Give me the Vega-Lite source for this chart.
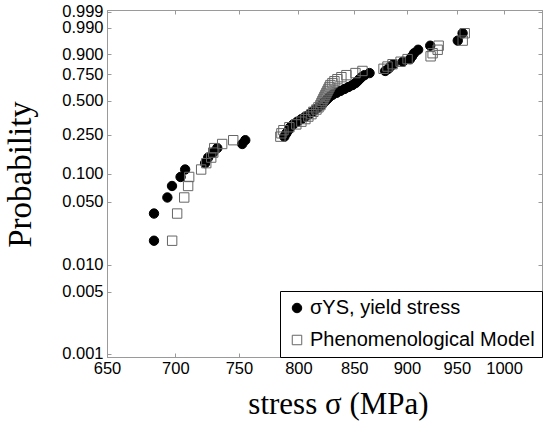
{
  "$schema": "https://vega.github.io/schema/vega-lite/v6.json",
  "width": 435,
  "height": 347,
  "autosize": "none",
  "padding": {"left": 107, "top": 10, "right": 1, "bottom": 67},
  "background": "white",
  "config": {
    "font": "Liberation Sans",
    "view": {"stroke": "#9a9a9a", "strokeWidth": 1},
    "axis": {"grid": false, "domainColor": "#9a9a9a", "tickColor": "#9a9a9a", "labelColor": "black", "labelFont": "Liberation Sans", "labelFontSize": 16.5, "labelOverlap": false, "labelFlush": false, "labelBound": false, "titleFont": "Liberation Serif", "titleFontSize": 31, "titleFontWeight": "normal", "titleColor": "black", "tickSize": -4},
    "legend": {"orient": "bottom-right", "offset": 0, "strokeColor": "black", "fillColor": "white", "padding": 7, "rowPadding": 12, "labelFont": "Liberation Sans", "labelFontSize": 20, "labelColor": "black", "labelLimit": 400, "symbolSize": 90, "symbolStrokeWidth": 1, "labelOffset": 3, "cornerRadius": 0}
  },
  "data": {"values": [
    {"series": "σYS, yield stress", "stress": 684, "F": -3.9796},
    {"series": "σYS, yield stress", "stress": 684, "F": -3.2770},
    {"series": "σYS, yield stress", "stress": 694, "F": -2.8619},
    {"series": "σYS, yield stress", "stress": 697.5, "F": -2.5645},
    {"series": "σYS, yield stress", "stress": 704, "F": -2.3313},
    {"series": "σYS, yield stress", "stress": 707.5, "F": -2.1389},
    {"series": "σYS, yield stress", "stress": 723, "F": -1.9744},
    {"series": "σYS, yield stress", "stress": 725.4, "F": -1.8304},
    {"series": "σYS, yield stress", "stress": 729.4, "F": -1.7019},
    {"series": "σYS, yield stress", "stress": 732.6, "F": -1.5858},
    {"series": "σYS, yield stress", "stress": 752.7, "F": -1.4794},
    {"series": "σYS, yield stress", "stress": 755.2, "F": -1.3811},
    {"series": "σYS, yield stress", "stress": 787.9, "F": -1.2895},
    {"series": "σYS, yield stress", "stress": 789.6, "F": -1.2036},
    {"series": "σYS, yield stress", "stress": 791.3, "F": -1.1226},
    {"series": "σYS, yield stress", "stress": 793.0, "F": -1.0459},
    {"series": "σYS, yield stress", "stress": 795.6, "F": -0.9727},
    {"series": "σYS, yield stress", "stress": 799.1, "F": -0.9027},
    {"series": "σYS, yield stress", "stress": 802.6, "F": -0.8356},
    {"series": "σYS, yield stress", "stress": 806.1, "F": -0.7709},
    {"series": "σYS, yield stress", "stress": 809.6, "F": -0.7083},
    {"series": "σYS, yield stress", "stress": 812.2, "F": -0.6477},
    {"series": "σYS, yield stress", "stress": 814.9, "F": -0.5888},
    {"series": "σYS, yield stress", "stress": 817.6, "F": -0.5314},
    {"series": "σYS, yield stress", "stress": 820.2, "F": -0.4753},
    {"series": "σYS, yield stress", "stress": 822.0, "F": -0.4204},
    {"series": "σYS, yield stress", "stress": 823.8, "F": -0.3665},
    {"series": "σYS, yield stress", "stress": 825.6, "F": -0.3135},
    {"series": "σYS, yield stress", "stress": 827.4, "F": -0.2612},
    {"series": "σYS, yield stress", "stress": 830.1, "F": -0.2096},
    {"series": "σYS, yield stress", "stress": 833.7, "F": -0.1584},
    {"series": "σYS, yield stress", "stress": 837.3, "F": -0.1077},
    {"series": "σYS, yield stress", "stress": 841.0, "F": -0.0571},
    {"series": "σYS, yield stress", "stress": 844.7, "F": -0.0068},
    {"series": "σYS, yield stress", "stress": 848.3, "F": 0.0436},
    {"series": "σYS, yield stress", "stress": 851.1, "F": 0.0940},
    {"series": "σYS, yield stress", "stress": 853.0, "F": 0.1447},
    {"series": "σYS, yield stress", "stress": 854.8, "F": 0.1958},
    {"series": "σYS, yield stress", "stress": 856.7, "F": 0.2476},
    {"series": "σYS, yield stress", "stress": 859.5, "F": 0.3001},
    {"series": "σYS, yield stress", "stress": 864.2, "F": 0.3536},
    {"series": "σYS, yield stress", "stress": 879, "F": 0.4082},
    {"series": "σYS, yield stress", "stress": 882, "F": 0.4644},
    {"series": "σYS, yield stress", "stress": 884, "F": 0.5226},
    {"series": "σYS, yield stress", "stress": 887, "F": 0.5832},
    {"series": "σYS, yield stress", "stress": 896, "F": 0.6469},
    {"series": "σYS, yield stress", "stress": 903, "F": 0.7144},
    {"series": "σYS, yield stress", "stress": 905, "F": 0.7872},
    {"series": "σYS, yield stress", "stress": 907, "F": 0.8669},
    {"series": "σYS, yield stress", "stress": 911, "F": 0.9565},
    {"series": "σYS, yield stress", "stress": 923, "F": 1.0614},
    {"series": "σYS, yield stress", "stress": 951, "F": 1.1927},
    {"series": "σYS, yield stress", "stress": 956, "F": 1.3835},
    {"series": "Phenomenological Model", "stress": 697.6, "F": -3.9796},
    {"series": "Phenomenological Model", "stress": 701.4, "F": -3.2770},
    {"series": "Phenomenological Model", "stress": 706.8, "F": -2.8619},
    {"series": "Phenomenological Model", "stress": 709.8, "F": -2.5645},
    {"series": "Phenomenological Model", "stress": 710.6, "F": -2.3313},
    {"series": "Phenomenological Model", "stress": 719.9, "F": -2.1389},
    {"series": "Phenomenological Model", "stress": 723.9, "F": -1.9744},
    {"series": "Phenomenological Model", "stress": 727.8, "F": -1.8304},
    {"series": "Phenomenological Model", "stress": 729.4, "F": -1.7019},
    {"series": "Phenomenological Model", "stress": 730.2, "F": -1.5858},
    {"series": "Phenomenological Model", "stress": 736.5, "F": -1.4794},
    {"series": "Phenomenological Model", "stress": 745.4, "F": -1.3811},
    {"series": "Phenomenological Model", "stress": 784.5, "F": -1.2895},
    {"series": "Phenomenological Model", "stress": 785.4, "F": -1.2036},
    {"series": "Phenomenological Model", "stress": 787.1, "F": -1.1226},
    {"series": "Phenomenological Model", "stress": 792.2, "F": -1.0459},
    {"series": "Phenomenological Model", "stress": 798.2, "F": -0.9727},
    {"series": "Phenomenological Model", "stress": 802.6, "F": -0.9027},
    {"series": "Phenomenological Model", "stress": 806.1, "F": -0.8356},
    {"series": "Phenomenological Model", "stress": 808.7, "F": -0.7709},
    {"series": "Phenomenological Model", "stress": 811.4, "F": -0.7083},
    {"series": "Phenomenological Model", "stress": 813.1, "F": -0.6477},
    {"series": "Phenomenological Model", "stress": 815.8, "F": -0.5888},
    {"series": "Phenomenological Model", "stress": 817.6, "F": -0.5314},
    {"series": "Phenomenological Model", "stress": 819.3, "F": -0.4753},
    {"series": "Phenomenological Model", "stress": 820.2, "F": -0.4204},
    {"series": "Phenomenological Model", "stress": 821.1, "F": -0.3665},
    {"series": "Phenomenological Model", "stress": 822.0, "F": -0.3135},
    {"series": "Phenomenological Model", "stress": 822.9, "F": -0.2612},
    {"series": "Phenomenological Model", "stress": 823.8, "F": -0.2096},
    {"series": "Phenomenological Model", "stress": 824.7, "F": -0.1584},
    {"series": "Phenomenological Model", "stress": 825.6, "F": -0.1077},
    {"series": "Phenomenological Model", "stress": 826.5, "F": -0.0571},
    {"series": "Phenomenological Model", "stress": 827.4, "F": -0.0068},
    {"series": "Phenomenological Model", "stress": 828.3, "F": 0.0436},
    {"series": "Phenomenological Model", "stress": 830.1, "F": 0.0940},
    {"series": "Phenomenological Model", "stress": 831.9, "F": 0.1447},
    {"series": "Phenomenological Model", "stress": 834.6, "F": 0.1958},
    {"series": "Phenomenological Model", "stress": 838.2, "F": 0.2476},
    {"series": "Phenomenological Model", "stress": 842.8, "F": 0.3001},
    {"series": "Phenomenological Model", "stress": 851.1, "F": 0.3536},
    {"series": "Phenomenological Model", "stress": 857.6, "F": 0.4082},
    {"series": "Phenomenological Model", "stress": 877.4, "F": 0.4644},
    {"series": "Phenomenological Model", "stress": 881.2, "F": 0.5226},
    {"series": "Phenomenological Model", "stress": 886.0, "F": 0.5832},
    {"series": "Phenomenological Model", "stress": 893.8, "F": 0.6469},
    {"series": "Phenomenological Model", "stress": 900.6, "F": 0.7144},
    {"series": "Phenomenological Model", "stress": 923.4, "F": 0.7872},
    {"series": "Phenomenological Model", "stress": 925.4, "F": 0.8669},
    {"series": "Phenomenological Model", "stress": 930.5, "F": 0.9565},
    {"series": "Phenomenological Model", "stress": 931.5, "F": 1.0614},
    {"series": "Phenomenological Model", "stress": 956.1, "F": 1.1927},
    {"series": "Phenomenological Model", "stress": 958.2, "F": 1.3835}
  ]},
  "layer": [
    {
      "mark": {"type": "point", "opacity": 0},
      "encoding": {
        "x": {"field": "stress", "type": "quantitative", "scale": {"type": "log", "domain": [650, 1042], "nice": false}, "axis": {"orient": "top", "values": [650, 700, 750, 800, 850, 900, 950, 1000], "labels": false, "title": null}},
        "y": {"field": "F", "type": "quantitative", "scale": {"domain": [-6.985, 1.984], "nice": false, "zero": false}, "axis": {"orient": "right", "values": [-6.9073, -5.2958, -4.6002, -2.9702, -2.2504, -1.2459, -0.3665, 0.3266, 0.834, 1.5272, 1.9326], "labels": false, "title": null}}
      }
    },
    {
      "mark": {"type": "point", "size": 88, "strokeWidth": 1, "opacity": 1},
      "encoding": {
        "x": {"field": "stress", "type": "quantitative", "scale": {"type": "log", "domain": [650, 1042], "nice": false}, "axis": {"orient": "bottom", "values": [650, 700, 750, 800, 850, 900, 950, 1000], "format": "d", "labelPadding": 7, "title": "stress σ (MPa)", "titleBaseline": "alphabetic", "titleX": 231, "titleY": 56}},
        "y": {"field": "F", "type": "quantitative", "scale": {"domain": [-6.985, 1.984], "nice": false, "zero": false}, "axis": {"orient": "left", "values": [-6.9073, -5.2958, -4.6002, -2.9702, -2.2504, -1.2459, -0.3665, 0.3266, 0.834, 1.5272, 1.9326], "labelExpr": "datum.value < -6 ? '0.001' : datum.value < -5 ? '0.005' : datum.value < -4 ? '0.010' : datum.value < -2.6 ? '0.050' : datum.value < -2 ? '0.100' : datum.value < -1 ? '0.250' : datum.value < 0 ? '0.500' : datum.value < 0.5 ? '0.750' : datum.value < 1 ? '0.900' : datum.value < 1.7 ? '0.990' : '0.999'", "labelPadding": 8, "title": "Probability", "titleFontSize": 33, "titleBaseline": "alphabetic", "titleX": -77, "titleY": 164}},
        "shape": {"field": "series", "type": "nominal", "scale": {"domain": ["σYS, yield stress", "Phenomenological Model"], "range": ["circle", "square"]}, "legend": {"title": null}},
        "fill": {"field": "series", "type": "nominal", "scale": {"domain": ["σYS, yield stress", "Phenomenological Model"], "range": ["black", "transparent"]}, "legend": {"title": null}},
        "stroke": {"field": "series", "type": "nominal", "scale": {"domain": ["σYS, yield stress", "Phenomenological Model"], "range": ["black", "#666666"]}, "legend": {"title": null}}
      }
    }
  ],
  "resolve": {"axis": {"x": "independent", "y": "independent"}}
}
